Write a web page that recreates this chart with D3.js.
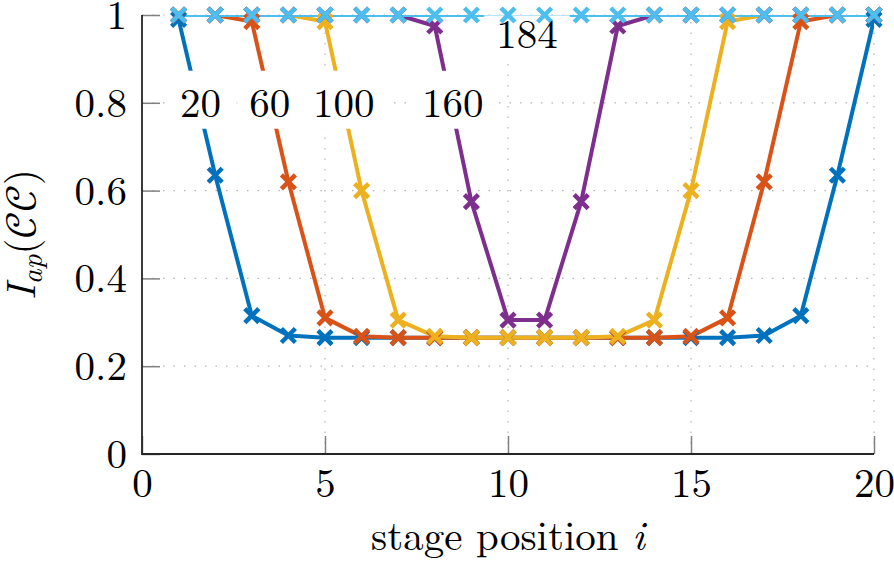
<!DOCTYPE html>
<html><head><meta charset="utf-8">
<script src="https://cdn.jsdelivr.net/npm/d3@7"></script>
</head><body style="margin:0;background:#fff"><svg id="c" width="894" height="563" style="display:block"></svg>
<script>
const positions = d3.range(1, 21);
const seriesNames = ["20", "60", "100", "160", "184"];
const colors = ["#0072BD", "#D95319", "#EDB120", "#7E2F8E", "#4DBEEE"];
const s20  = [0.99,0.635,0.315,0.27,0.265,0.265,0.265,0.265,0.265,0.265,0.265,0.265,0.265,0.265,0.265,0.265,0.27,0.315,0.635,0.99];
const s60  = [1,1,0.985,0.62,0.31,0.268,0.265,0.265,0.265,0.265,0.265,0.265,0.265,0.265,0.268,0.31,0.62,0.985,1,1];
const s100 = [1,1,1,1,0.985,0.60,0.305,0.268,0.265,0.265,0.265,0.265,0.268,0.305,0.60,0.985,1,1,1,1];
const s160 = [1,1,1,1,1,1,1,0.975,0.575,0.305,0.305,0.575,0.975,1,1,1,1,1,1,1];
const s184 = [1,1,1,1,1,1,1,1,1,1,1,1,1,1,1,1,1,1,1,1];
const seriesValues = [s20, s60, s100, s160, s184];
const labelX = [1.6, 3.49, 5.51, 8.49, 10.52];
const labelY = [0.80, 0.80, 0.80, 0.80, 0.957];
const xTicks = [0, 5, 10, 15, 20];
const yTicks = [0, 0.2, 0.4, 0.6, 0.8, 1];
const yTickLabels = ["0", "0.2", "0.4", "0.6", "0.8", "1"];

const FONT = "'Latin Modern Roman', 'CMU Serif', 'Liberation Serif', serif";
const svg = d3.select("#c");
const L = 142, R = 874, T = 15, B = 454;
const x = d3.scaleLinear().domain([0, 20]).range([L, R]);
const y = d3.scaleLinear().domain([0, 1]).range([B, T]);

svg.append("defs").append("clipPath").attr("id", "clip")
  .append("rect").attr("x", L).attr("y", T).attr("width", R - L).attr("height", B - T);

// grid
const grid = svg.append("g").attr("stroke", "#b4b4b4").attr("stroke-width", 1.2).attr("stroke-dasharray", "1.5,9");
grid.selectAll(".gx").data(xTicks.filter(d => d > 0)).join("line")
  .attr("x1", d => x(d)).attr("x2", d => x(d)).attr("y1", B).attr("y2", T);
grid.selectAll(".gy").data(yTicks.filter(d => d > 0)).join("line")
  .attr("y1", d => y(d)).attr("y2", d => y(d)).attr("x1", L).attr("x2", R);

// axes
const xAxis = d3.axisBottom(x).tickValues(xTicks).tickSize(-18).tickPadding(15).tickFormat(d3.format("d"));
const yAxis = d3.axisLeft(y).tickValues(yTicks).tickSize(-18).tickPadding(15).tickFormat((d, i) => yTickLabels[i]);
const gx = svg.append("g").attr("transform", `translate(0,${B})`).call(xAxis);
const gy = svg.append("g").attr("transform", `translate(${L},0)`).call(yAxis);
[gx, gy].forEach(g => {
  g.attr("font-family", null).attr("font-size", null);
  g.select(".domain").remove();
  g.selectAll(".tick line").attr("stroke", "#808080").attr("stroke-width", 1.5);
  g.selectAll(".tick text").style("font-family", FONT).style("font-size", "41px").attr("fill", "#000");
});
gx.selectAll(".tick text").attr("dy", "0.68em");
gy.selectAll(".tick text").attr("dy", "0.33em");
svg.append("path").attr("d", `M${L},${T}V${B}H${R}`).attr("fill", "none").attr("stroke", "#262626").attr("stroke-width", 1.8);

// lines
const line = d3.line().x((d, i) => x(positions[i])).y(d => y(d));
const linesG = svg.append("g").attr("clip-path", "url(#clip)");
seriesValues.forEach((vals, k) => {
  linesG.append("path").datum(vals).attr("d", line).attr("fill", "none")
    .attr("stroke", colors[k]).attr("stroke-width", 4).attr("stroke-linejoin", "round");
});

// label boxes (under markers), markers, label text
const boxes = svg.append("g");
const mk = svg.append("g");
const texts = svg.append("g");
const tnodes = seriesNames.map((n, k) => texts.append("text")
  .attr("x", x(labelX[k])).attr("y", y(labelY[k])).attr("dy", "0.34em")
  .attr("text-anchor", "middle").style("font-family", FONT).style("font-size", "41px").text(n));
tnodes.forEach(t => {
  const bb = t.node().getBBox();
  const padX = 12, padY = 0;
  const top = Math.max(bb.y - padY, T + 0.4);
  boxes.append("rect").attr("x", bb.x - padX).attr("width", bb.width + 2 * padX)
    .attr("y", top).attr("height", bb.y + bb.height + padY - top).attr("fill", "#fff");
});
const s = 7;
seriesValues.forEach((vals, k) => {
  mk.append("g").selectAll("path").data(vals).join("path")
    .attr("d", (d, i) => { const cx = x(positions[i]), cy = y(d); return `M${cx - s},${cy - s}L${cx + s},${cy + s}M${cx - s},${cy + s}L${cx + s},${cy - s}`; })
    .attr("stroke", colors[k]).attr("stroke-width", 4.5).attr("fill", "none");
});

// axis titles
const xt = svg.append("text").attr("x", (L + R) / 2).attr("y", 550).attr("text-anchor", "middle")
  .style("font-family", FONT).style("font-size", "41px");
xt.append("tspan").text("stage position ");
xt.append("tspan").attr("font-style", "italic").text("i");
const yl = svg.append("text").attr("transform", `translate(35,${(T + B) / 2}) rotate(-90)`).attr("text-anchor", "middle")
  .style("font-family", FONT).style("font-size", "41px");
yl.append("tspan").attr("font-style", "italic").text("I");
yl.append("tspan").attr("font-style", "italic").style("font-size", "29px").attr("dy", 7).text("ap");
yl.append("tspan").attr("dy", -7).text("(");
yl.append("tspan").style("font-family", "'Latin Modern Math', serif").text("\u{1D49E}\u{1D49E}");
yl.append("tspan").text(")");
</script></body></html>
